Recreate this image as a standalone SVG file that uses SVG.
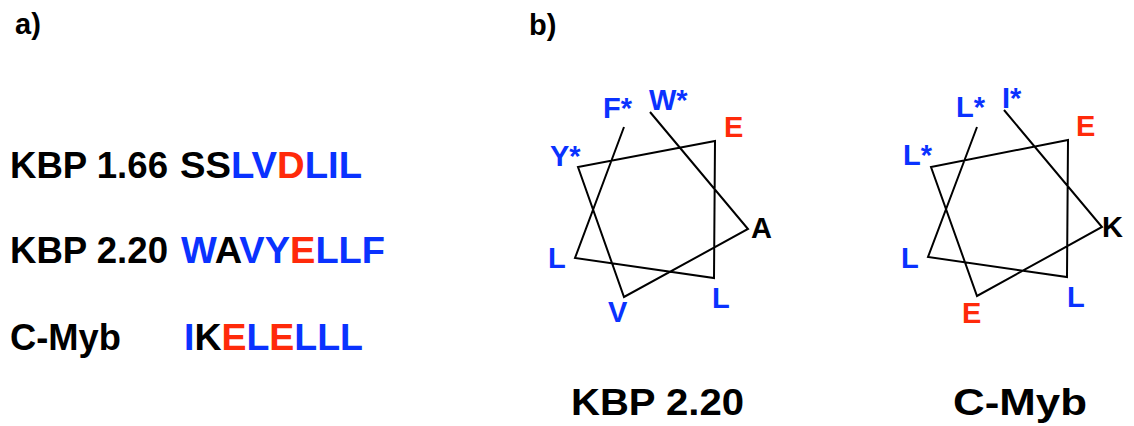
<svg xmlns="http://www.w3.org/2000/svg" width="1134" height="426" viewBox="0 0 1134 426">
  <style>
    text { font-family: "Liberation Sans", Arial, sans-serif; font-weight: bold; fill: #000; }
    .seq { font-size: 37px; }
    .res { font-size: 29px; }
    .panel { font-size: 29px; }
    .title { font-size: 36px; }
    .b { fill: #0a32ff; }
    .r { fill: #ff2a0a; }
    .helix { fill: none; stroke: #000; stroke-width: 2; stroke-linejoin: miter; }
  </style>
  <rect width="1134" height="426" fill="#fff"/>

  <!-- panel labels -->
  <text class="panel" x="15" y="34">a)</text>
  <text class="panel" x="529" y="35">b)</text>

  <!-- a) sequences -->
  <g id="seq-kbp166">
    <text class="seq" x="10" y="178" textLength="158" lengthAdjust="spacingAndGlyphs">KBP 1.66</text>
    <text class="seq" x="180" y="178" textLength="182" lengthAdjust="spacingAndGlyphs">SS<tspan class="b">LV</tspan><tspan class="r">D</tspan><tspan class="b">LIL</tspan></text>
  </g>
  <g id="seq-kbp220">
    <text class="seq" x="10" y="263" textLength="158" lengthAdjust="spacingAndGlyphs">KBP 2.20</text>
    <text class="seq" x="181" y="263" textLength="204" lengthAdjust="spacingAndGlyphs"><tspan class="b">W</tspan>A<tspan class="b">VY</tspan><tspan class="r">E</tspan><tspan class="b">LLF</tspan></text>
  </g>
  <g id="seq-cmyb">
    <text class="seq" x="10" y="350" textLength="111" lengthAdjust="spacingAndGlyphs">C-Myb</text>
    <text class="seq" x="184" y="350" textLength="179" lengthAdjust="spacingAndGlyphs"><tspan class="b">I</tspan>K<tspan class="r">E</tspan><tspan class="b">L</tspan><tspan class="r">E</tspan><tspan class="b">LLL</tspan></text>
  </g>

  <!-- b) helical wheels -->
  <g id="connectors">
    <polyline class="helix" points="650,112 748,229 624,297 578,167 715,141 714,278 575,258 624,127"/>
    <polyline class="helix" points="1004,110 1102,227 977,296 931,167 1068,140 1067,277 928,257 977,127"/>
  </g>

  <g id="wheel-kbp220">
    <text class="res b" x="603" y="118">F*</text>
    <text class="res b" x="649" y="110">W*</text>
    <text class="res r" x="724" y="137">E</text>
    <text class="res b" x="550" y="166">Y*</text>
    <text class="res" x="751" y="238">A</text>
    <text class="res b" x="548" y="268">L</text>
    <text class="res b" x="608" y="322">V</text>
    <text class="res b" x="712" y="308">L</text>
    <text class="title" x="571" y="415" textLength="173" lengthAdjust="spacingAndGlyphs">KBP 2.20</text>
  </g>

  <g id="wheel-cmyb">
    <text class="res b" x="956" y="117">L*</text>
    <text class="res b" x="1002" y="108">I*</text>
    <text class="res r" x="1076" y="136">E</text>
    <text class="res b" x="903" y="165">L*</text>
    <text class="res" x="1102" y="237">K</text>
    <text class="res b" x="901" y="268">L</text>
    <text class="res r" x="962" y="323">E</text>
    <text class="res b" x="1067" y="307">L</text>
    <text class="title" x="953" y="415" textLength="134" lengthAdjust="spacingAndGlyphs">C-Myb</text>
  </g>
</svg>
